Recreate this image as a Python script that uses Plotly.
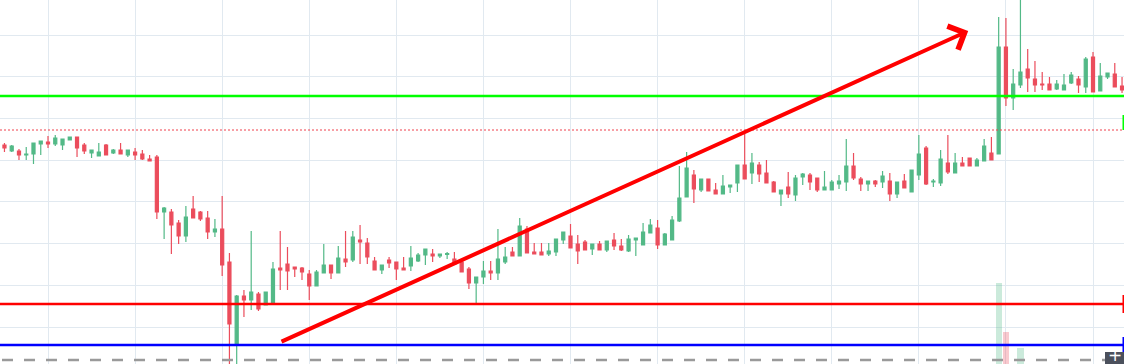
import plotly.graph_objects as go

# ---- data (price units; candle index along x) ----
candle_idx = list(range(155))
opens = [255, 249, 249, 245, 246, 256, 258, 256, 255, 260, 263, 255, 247, 244, 255, 247, 250, 245, 248, 246,
         241, 243, 188, 188, 177, 164, 191, 188, 182, 168, 171, 138, 56, 104, 100, 106, 95, 97, 132, 136,
         133, 132, 126, 114, 127, 135, 127, 141, 140, 160, 157, 139, 130, 140, 138, 132, 134, 139, 145, 146,
         144, 145.5, 141, 138, 131, 117, 123, 129, 127, 138, 148, 144, 171, 148, 148, 146, 148, 160, 164, 156,
         158, 151, 156, 150, 160, 154, 149, 160, 155, 167, 172, 155, 160, 179, 203, 225, 210, 221, 210, 206,
         213, 217, 235, 227, 235, 227, 218, 206, 213, 205, 223, 225, 222, 210, 210, 216, 218, 234, 221, 216,
         219, 218, 219, 206, 219, 208, 225, 252, 218, 217, 237, 227, 237, 242, 234, 239, 247, 246, 353, 302,
         315, 331, 321, 316, 316, 311, 310, 317, 321, 313, 343, 309, 323, 326, 314]
highs = [257, 255, 251, 253, 257, 259, 264, 265, 261, 263.5, 263, 257, 250, 257, 256, 251, 257, 250, 252, 250,
         245, 245, 193, 191, 180, 194, 204, 189, 189, 181, 204, 147, 105, 110, 169, 108, 108, 138, 169, 153,
         133, 133, 130, 130, 156, 135, 154, 169, 169, 175, 162, 143, 135, 143, 138, 143, 154, 147, 151, 151,
         146, 148, 148, 138, 133, 123, 139, 139, 171, 153, 153, 182, 174, 157, 157, 157, 161, 168, 176, 165,
         160, 156, 159, 159, 167, 161, 165, 162, 177, 181, 180, 167, 184, 234, 248, 230, 221, 221, 217, 225,
         215, 235, 266, 247, 238, 240, 219, 210, 228, 225, 227, 227, 222, 229, 220, 225, 261, 247, 223, 219,
         220, 229, 227, 218, 226, 230, 265, 254, 221, 250, 265, 247, 243, 242, 242, 261, 263, 383, 382, 331,
         402, 351, 339, 328, 323, 320, 326, 328, 324, 343, 348, 337, 327, 337, 323]
lows = [248, 248, 240, 240, 236, 245, 252, 254, 250, 260, 243, 246, 242, 244, 245, 246, 246, 243, 240, 240,
        239, 181, 161, 146, 156, 158, 182, 179, 161, 163, 124, 30, 32, 83, 90, 89, 95, 96, 110, 110,
        123, 120, 100, 114, 127, 121, 127, 133, 138, 136, 136, 130, 126, 132, 120, 130, 129, 138, 135, 138,
        142, 141, 136, 128, 111, 97, 116, 120, 120, 136, 144, 144, 147, 146, 145, 144, 144, 156, 152, 136,
        150, 145, 150, 148, 150, 149, 148, 144, 155, 167, 151, 155, 160, 178, 203, 197, 208, 209, 206, 206,
        207, 208, 221, 216, 218, 217, 208, 194, 202, 199, 215, 210, 208, 210, 210, 211, 209, 220, 209, 209,
        213, 212, 199, 202, 212, 208, 220, 215, 213, 214, 226, 227, 234, 234, 234, 239, 240, 246, 294, 290,
        312, 308, 308, 310, 310, 310, 310, 316, 307, 307, 308, 309, 321, 313, 307]
closes = [252, 254, 245, 246, 257, 259, 256, 262, 261, 263, 252, 249, 250, 248, 245, 250, 246, 250, 245, 241,
          239, 188, 192, 175, 164, 183, 182, 181, 168, 171, 135, 76, 104, 100, 108, 91, 108, 131, 130, 129,
          131, 128, 114, 128, 135, 127, 142, 138, 163, 158, 143, 130, 135, 137, 131, 130, 142, 145, 151, 144,
          146, 146.5, 136, 128, 117, 123, 129, 127, 141, 143, 144, 174, 147, 146, 145, 149, 161, 168, 152, 149,
          150, 156, 150, 159, 154, 150, 161, 162, 168, 175, 155, 166, 180, 202, 232, 211, 221, 209, 206, 214,
          215, 235, 221, 237, 226, 217, 208, 210, 206, 222, 226, 218, 210, 213, 218, 219, 234, 222, 216, 219,
          216, 224, 206, 218, 212, 230, 246, 216, 219, 241, 228, 237, 234, 234, 240, 254, 240, 353, 302, 316,
          328, 322, 315, 315, 310, 316, 315, 325, 315, 341, 308, 324, 327, 313, 310]
volume_idx = [137, 138, 140]
volume_vals = [22.3, 8.8, 4.4]
volume_up = [True, False, True]

# horizontal levels (price)
level_green = 304
level_red_dotted = 270
level_red = 96
level_blue = 55
level_gray = 40

# trend arrow (candle index, price)
arrow_start = (37.97, 57.7)
arrow_end = (132.8, 369)

UP = "#53b987"
DOWN = "#eb4d5c"
GRID = "#e1e9f0"

fig = go.Figure()

fig.add_trace(go.Bar(
    x=volume_idx, y=volume_vals, yaxis="y2", width=0.85,
    marker=dict(color=["rgba(83,185,135,0.3)" if u else "rgba(235,77,92,0.3)" for u in volume_up],
                line=dict(width=0)),
    showlegend=False, hoverinfo="skip"))

fig.add_trace(go.Candlestick(
    x=candle_idx, open=opens, high=highs, low=lows, close=closes,
    increasing=dict(line=dict(color=UP, width=1.2), fillcolor=UP),
    decreasing=dict(line=dict(color=DOWN, width=1.2), fillcolor=DOWN),
    showlegend=False))

shapes = []
def hline(y, color, width, dash="solid", x0=0):
    shapes.append(dict(type="line", xref="paper", yref="y", x0=x0, x1=1, y0=y, y1=y,
                       line=dict(color=color, width=width, dash=dash), layer="above"))

hline(level_gray, "#9a9a9a", 2.5, "11px,11px", x0=2/1124)
hline(level_green, "#00ff00", 2.5)
hline(level_red_dotted, "#f0404c", 1, "2px,2px")
hline(level_red, "#ff0000", 2.5)
hline(level_blue, "#0000ff", 2.5)

# right-edge price-scale slivers
for (ya, yb, c) in [(400-313, 400-295, "#ff0000"), (400-352, 400-337, "#0000ff"), (400-130, 400-115, "#00ff00")]:
    shapes.append(dict(type="rect", xref="paper", yref="y", x0=1122.5/1124, x1=1, y0=ya, y1=yb,
                       fillcolor=c, line=dict(width=0), layer="above"))

# bottom-right button
shapes.append(dict(type="rect", xref="paper", yref="paper", x0=1105/1124, x1=1, y0=0, y1=12/364,
                   fillcolor="#4b505c", line=dict(width=0), layer="above"))

fig.add_annotation(x=1114.5/1124, y=0, xref="paper", yref="paper", text="+", showarrow=False,
                   font=dict(color="white", size=17, family="DejaVu Sans"), xanchor="center", yanchor="bottom",
                   yshift=-3)

fig.add_annotation(x=arrow_end[0], y=arrow_end[1], ax=arrow_start[0], ay=arrow_start[1],
                   xref="x", yref="y", axref="x", ayref="y", text="", showarrow=True,
                   arrowhead=4, arrowwidth=4, arrowsize=1.25, arrowcolor="#ff0000", standoff=0)

fig.update_layout(
    width=1124, height=364, margin=dict(l=0, r=0, t=0, b=0),
    plot_bgcolor="white", paper_bgcolor="white",
    shapes=shapes, boxgap=0.4, bargap=0,
    xaxis=dict(range=[-0.615, 154.27], showticklabels=False, showgrid=True, gridcolor=GRID, gridwidth=1,
               tick0=6, dtick=12, zeroline=False, rangeslider=dict(visible=False), fixedrange=True),
    yaxis=dict(range=[36, 400], showticklabels=False, showgrid=True, gridcolor=GRID, gridwidth=1,
               tick0=73, dtick=41.7, zeroline=False, fixedrange=True),
    yaxis2=dict(range=[0, 100], overlaying="y", visible=False, fixedrange=True),
)

fig.write_html("out.html", config=dict(displayModeBar=False),
               post_script="document.body.style.margin='0';document.body.style.overflow='hidden';")
